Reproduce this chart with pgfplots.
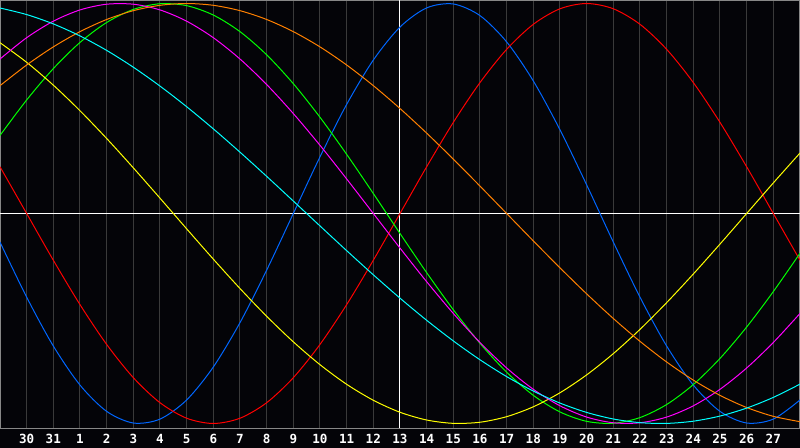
\documentclass[border=0pt]{standalone}
\usepackage{pgfplots}
\pgfplotsset{compat=1.18}
\usepackage{pgfplotstable}
\usepackage{fontspec}
\newfontfamily\labfont{DejaVu Sans Mono}
\definecolor{bg}{RGB}{4,4,8}
\definecolor{gridc}{RGB}{58,58,58}
\definecolor{framec}{RGB}{135,135,135}
\definecolor{cblue}{RGB}{0,102,255}
\definecolor{cred}{RGB}{255,0,0}
\definecolor{cyellow}{RGB}{255,255,0}
\definecolor{cgreen}{RGB}{0,255,0}
\definecolor{cmagenta}{RGB}{255,0,255}
\definecolor{corange}{RGB}{255,128,0}
\definecolor{ccyan}{RGB}{0,255,255}
\pgfplotstableread{
t red blue yellow green magenta orange cyan
0 0.2225 -0.1362 0.8134 0.3717 0.7357 0.6088 0.9786
1 0 -0.3984 0.7199 0.5406 0.8372 0.7071 0.9473
2 -0.2225 -0.6311 0.6112 0.6901 0.9158 0.7934 0.9028
3 -0.4339 -0.8170 0.4894 0.8146 0.9694 0.8660 0.8456
4 -0.6235 -0.9423 0.3572 0.9096 0.9966 0.9239 0.7767
5 -0.7818 -0.9977 0.2174 0.9718 0.9966 0.9659 0.6966
6 -0.9010 -0.9791 0.0730 0.9989 0.9694 0.9914 0.6068
7 -0.9749 -0.8879 -0.0730 0.9898 0.9158 1 0.5085
8 -1 -0.7308 -0.2174 0.9450 0.8372 0.9914 0.4031
9 -0.9749 -0.5196 -0.3572 0.8660 0.7357 0.9659 0.2920
10 -0.9010 -0.2698 -0.4894 0.7557 0.6142 0.9239 0.1769
11 -0.7818 0 -0.6112 0.6182 0.4759 0.8660 0.0592
12 -0.6235 0.2698 -0.7199 0.4582 0.3247 0.7934 -0.0592
13 -0.4339 0.5196 -0.8134 0.2817 0.1646 0.7071 -0.1769
14 -0.2225 0.7308 -0.8894 0.0951 0 0.6088 -0.2920
15 0 0.8879 -0.9465 -0.0951 -0.1646 0.5 -0.4031
16 0.2225 0.9791 -0.9834 -0.2817 -0.3247 0.3827 -0.5085
17 0.4339 0.9977 -0.9993 -0.4582 -0.4759 0.2588 -0.6068
18 0.6235 0.9423 -0.9940 -0.6182 -0.6142 0.1305 -0.6966
19 0.7818 0.8170 -0.9675 -0.7557 -0.7357 0 -0.7767
20 0.9010 0.6311 -0.9204 -0.8660 -0.8372 -0.1305 -0.8456
21 0.9749 0.3984 -0.8536 -0.9450 -0.9158 -0.2588 -0.9028
22 1 0.1362 -0.7685 -0.9898 -0.9694 -0.3827 -0.9473
23 0.9749 -0.1362 -0.6673 -0.9989 -0.9966 -0.5 -0.9786
24 0.9010 -0.3984 -0.5517 -0.9718 -0.9966 -0.6088 -0.9960
25 0.7818 -0.6311 -0.4244 -0.9096 -0.9694 -0.7071 -0.9996
26 0.6235 -0.8170 -0.2881 -0.8146 -0.9158 -0.7934 -0.9890
27 0.4339 -0.9423 -0.1456 -0.6901 -0.8372 -0.8660 -0.9646
28 0.2225 -0.9977 0 -0.5406 -0.7357 -0.9239 -0.9267
29 0 -0.9791 0.1456 -0.3717 -0.6142 -0.9659 -0.8757
30 -0.2225 -0.8879 0.2881 -0.1893 -0.4759 -0.9914 -0.8126
}\bio
\begin{document}
\begin{tikzpicture}
\fill[bg] (0,-9.75pt) rectangle (400pt,214.25pt);
\begin{axis}[
  scale only axis, width=400pt, height=214.25pt,
  xmin=0, xmax=30, ymin=-1.0238, ymax=1.0167,
  axis line style={framec, line width=0.75pt},
  xtick={1,...,29},
  xticklabels={30,31,1,2,3,4,5,6,7,8,9,10,11,12,13,14,15,16,17,18,19,20,21,22,23,24,25,26,27},
  ytick=\empty,
  major tick length=0pt,
  xmajorgrids,
  grid style={gridc, line width=0.5pt},
  xticklabel style={font=\labfont\bfseries\fontsize{6.3}{7}\selectfont, text=white, anchor=center, yshift=-5.4pt},
  every axis plot/.append style={line width=0.5pt, smooth, no markers},
]
\draw[white, line width=0.5pt] (axis cs:15,-1.0238) -- (axis cs:15,1.0167);
\draw[white, line width=0.5pt] (axis cs:0,0) -- (axis cs:30,0);
\addplot[cblue] table[x=t, y=blue] {\bio};
\addplot[cred] table[x=t, y=red] {\bio};
\addplot[cgreen] table[x=t, y=green] {\bio};
\addplot[cyellow] table[x=t, y=yellow] {\bio};
\addplot[cmagenta] table[x=t, y=magenta] {\bio};
\addplot[corange] table[x=t, y=orange] {\bio};
\addplot[ccyan] table[x=t, y=cyan] {\bio};
\end{axis}
\pgfresetboundingbox
\path (0,-9.75pt) rectangle (400pt,214.25pt);
\end{tikzpicture}
\end{document}
